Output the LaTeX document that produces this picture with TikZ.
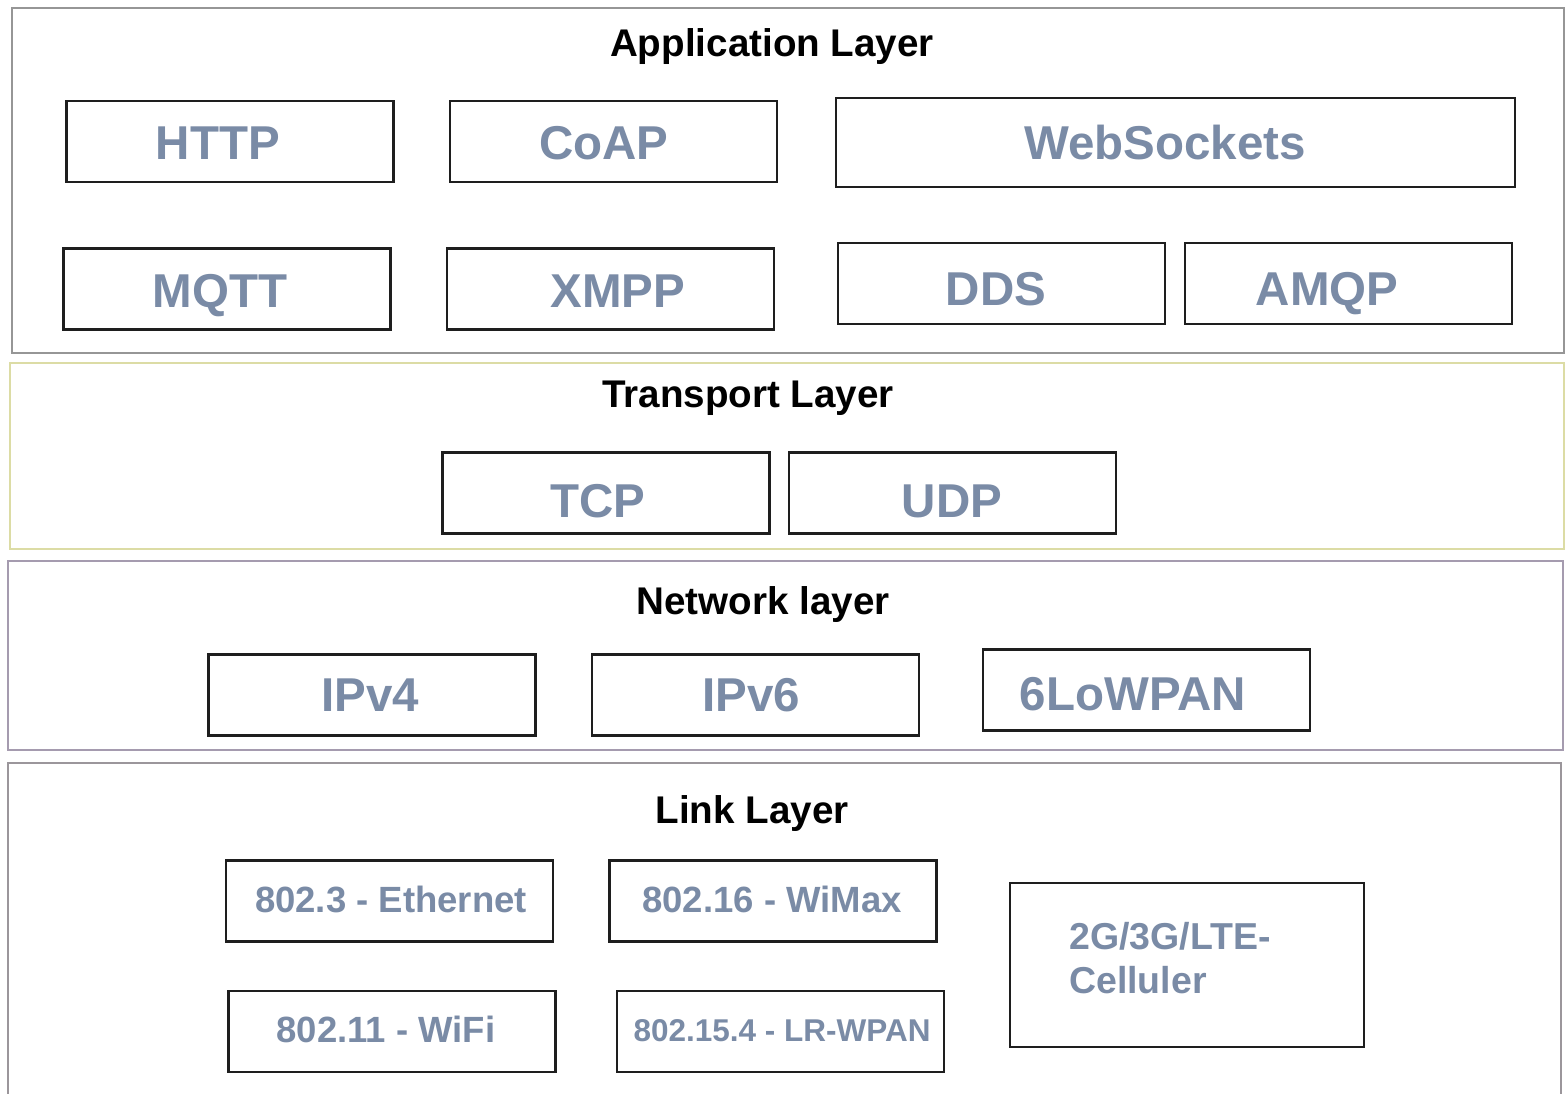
\documentclass[tikz,border=0pt]{standalone}
\usepackage{fontspec}
\setmainfont{Liberation Sans}
\definecolor{lbl}{RGB}{122,139,166}
\definecolor{boxline}{RGB}{30,30,30}
\definecolor{appline}{RGB}{150,150,150}
\definecolor{trline}{RGB}{220,220,165}
\definecolor{netline}{RGB}{165,155,175}
\definecolor{linkline}{RGB}{155,150,155}
\begin{document}
\begin{tikzpicture}[x=1pt,y=-1pt,
  layerbox/.style={draw, line width=2pt, fill=white, inner sep=0pt},
  protobox/.style={draw=boxline, line width=2.4pt, fill=white, inner sep=0pt,
    minimum width=327pt, minimum height=81pt},
  ptext/.style={inner sep=0pt, text=lbl, text height=34pt, text depth=0pt,
    font=\bfseries\fontsize{47.5}{52}\selectfont},
  stext/.style={inner sep=0pt, text=lbl, text height=26pt, text depth=0pt,
    font=\bfseries\fontsize{36.5}{44}\selectfont},
  ltitle/.style={font=\bfseries\fontsize{38.6}{44}\selectfont, text=black, inner sep=0pt,
    text height=28pt, text depth=0pt}
]
\useasboundingbox (0,0) rectangle (1566,1093);
\fill[white] (0,0) rectangle (1566,1093);

% layers
\node[layerbox, draw=appline, minimum width=1552pt, minimum height=345pt] (app) at (788,180.5) {};
\node[layerbox, draw=trline, minimum width=1554pt, minimum height=186pt] (tr) at (787,456) {};
\node[layerbox, draw=netline, minimum width=1555pt, minimum height=189pt] (net) at (785.5,655.5) {};
\node[layerbox, draw=linkline, minimum width=1553pt, minimum height=340pt] (link) at (784.5,933) {};

% titles
\node[ltitle] (appt) at (772,42) {Application Layer};
\node[ltitle] (trt) at (748,393) {Transport Layer};
\node[ltitle] (nett) at (763,600) {Network layer};
\node[ltitle] (linkt) at (752,809) {Link Layer};

% application
\node[protobox] (http) at (230,141.5) {};
\node[ptext] (httpt) at (218,142) {HTTP};
\node[protobox] (coap) at (613.5,141.5) {};
\node[ptext] (coapt) at (604,142) {CoAP};
\node[protobox, minimum width=679pt, minimum height=89pt] (ws) at (1175.5,142.5) {};
\node[ptext] (wst) at (1165,142) {WebSockets};
\node[protobox] (mqtt) at (227,289) {};
\node[ptext] (mqttt) at (220,290) {MQTT};
\node[protobox] (xmpp) at (610.5,289) {};
\node[ptext] (xmppt) at (618,290) {XMPP};
\node[protobox] (dds) at (1001.5,283.5) {};
\node[ptext] (ddst) at (996,288) {DDS};
\node[protobox] (amqp) at (1348.5,283.5) {};
\node[ptext] (amqpt) at (1327,288) {AMQP};

% transport
\node[protobox] (tcp) at (606,493) {};
\node[ptext] (tcpt) at (598,500) {TCP};
\node[protobox] (udp) at (952.5,493) {};
\node[ptext] (udpt) at (952,500) {UDP};

% network
\node[protobox] (ipv4) at (372,695) {};
\node[ptext] (ipv4t) at (370,694) {IPv4};
\node[protobox] (ipv6) at (755.5,695) {};
\node[ptext] (ipv6t) at (751,694) {IPv6};
\node[protobox] (lowpan) at (1146.5,690) {};
\node[ptext] (lowpant) at (1133,693) {6LoWPAN};

% link
\node[protobox] (eth) at (389.5,901) {};
\node[stext] (etht) at (391,899) {802.3 - Ethernet};
\node[protobox] (wimax) at (773,901) {};
\node[stext] (wimaxt) at (772,899) {802.16 - WiMax};
\node[protobox] (wifi) at (392,1031.5) {};
\node[stext] (wifit) at (386,1029) {802.11 - WiFi};
\node[protobox] (wpan) at (780.5,1031.5) {};
\node[stext, text height=22.5pt, font=\bfseries\fontsize{31.5}{36}\selectfont] (wpant) at (782,1030) {802.15.4 - LR-WPAN};
\node[protobox, minimum width=354pt, minimum height=164pt] (cell) at (1187,965) {};
\node[anchor=north west, inner sep=0pt, text=lbl, align=left,
  font=\bfseries\fontsize{37.5}{44}\selectfont] (celltxt) at (1069,922) {2G/3G/LTE-\\Celluler};
\end{tikzpicture}
\end{document}
